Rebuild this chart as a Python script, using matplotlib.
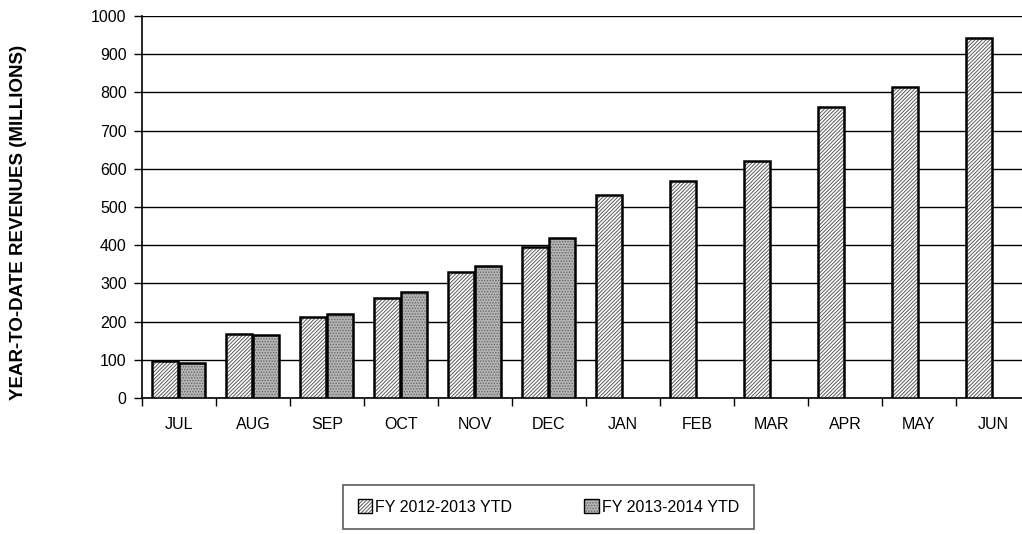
import matplotlib
matplotlib.use("Agg")
import matplotlib.pyplot as plt
import numpy as np
from matplotlib.patches import Patch
from matplotlib.legend_handler import HandlerTuple

plt.rcParams['font.family'] = ['Liberation Sans', 'DejaVu Sans']
plt.rcParams['hatch.linewidth'] = 0.7

months = ["JUL", "AUG", "SEP", "OCT", "NOV", "DEC", "JAN", "FEB", "MAR", "APR", "MAY", "JUN"]
fy12 = [98, 168, 212, 261, 329, 396, 532, 567, 620, 761, 813, 942]
fy13 = [92, 166, 220, 277, 346, 420]
series_names = ["FY 2012-2013 YTD", "FY 2013-2014 YTD"]
y_ticks = list(range(0, 1001, 100))

fig = plt.figure(figsize=(10.22, 5.34), dpi=100)
ax = fig.add_axes([142/1022, 1-398/534, (1030-142)/1022, (398-16)/534])

x = np.arange(len(months))
w = 0.345
hatch12 = '/' * 9
hatch13 = '......'
h12_col = '#5a5a5a'
h13_col = '#6a6a6a'
face12 = 'white'
face13 = '#b4b4b4'

x12 = x[:len(fy12)] - 0.19
x13 = x[:len(fy13)] + 0.175
# hatched fills
ax.bar(x12, fy12, width=w, facecolor=face12, edgecolor=h12_col, linewidth=0,
       hatch=hatch12, zorder=3)
ax.bar(x13, fy13, width=w, facecolor=face13, edgecolor=h13_col, linewidth=0,
       hatch=hatch13, zorder=3)
# outlines
ax.bar(x12, fy12, width=w, facecolor='none', edgecolor='black', linewidth=1.8, zorder=4)
ax.bar(x13, fy13, width=w, facecolor='none', edgecolor='black', linewidth=1.8, zorder=4)

ax.set_xlim(-0.5, len(months) - 0.5)
ax.set_ylim(0, 1000)
ax.set_yticks(y_ticks)
ax.yaxis.grid(True, color='black', linewidth=1.0, zorder=0)
ax.set_axisbelow(True)

ax.set_xticks(np.arange(-0.5, len(months) - 0.4, 1.0))
ax.set_xticklabels([])
ax.tick_params(axis='x', which='major', direction='out', length=6, width=1, color='black')
ax.set_xticks(x, minor=True)
ax.set_xticklabels(months, minor=True, fontsize=11.5)
ax.tick_params(axis='x', which='minor', length=0, pad=14)
ax.tick_params(axis='y', direction='out', length=6, width=1, labelsize=11.5, pad=5)

for s in ['top', 'right']:
    ax.spines[s].set_visible(False)
ax.spines['left'].set_linewidth(1.2)
ax.spines['bottom'].set_linewidth(1.2)

fig.text(19/1022, 1-222/534, "YEAR-TO-DATE REVENUES (MILLIONS)", rotation=90,
         ha='center', va='center', fontsize=13.5, fontweight='bold')

handles = [
    (Patch(facecolor=face12, edgecolor=h12_col, hatch=hatch12, linewidth=0),
     Patch(facecolor='none', edgecolor='black', linewidth=1.0)),
    (Patch(facecolor=face13, edgecolor=h13_col, hatch=hatch13, linewidth=0),
     Patch(facecolor='none', edgecolor='black', linewidth=1.0)),
]
leg = fig.legend(handles, series_names, loc='center', bbox_to_anchor=(548.5/1022, 1-507/534),
                 ncol=2, fontsize=11.5, frameon=True, fancybox=False, edgecolor='#333333',
                 handlelength=0.9, handleheight=0.9, handletextpad=0.2, columnspacing=4.5,
                 borderpad=0.9, handler_map={tuple: HandlerTuple(ndivide=1, pad=0)})
leg.get_frame().set_linewidth(1.2)

fig.savefig("out.png", dpi=100)
